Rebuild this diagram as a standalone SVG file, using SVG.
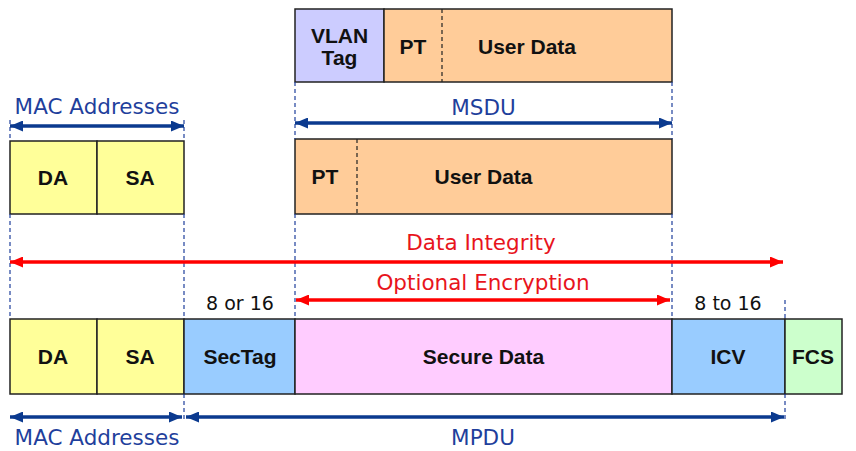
<svg xmlns="http://www.w3.org/2000/svg" width="856" height="451" viewBox="0 0 856 451">
<defs>
<marker id="ab" viewBox="0 0 13 11" refX="13" refY="5.5" markerWidth="13" markerHeight="11" markerUnits="userSpaceOnUse" orient="auto-start-reverse"><path d="M0,0 L13,5.5 L0,11 z" fill="#0B3A8F"/></marker>
<marker id="ar" viewBox="0 0 13 11" refX="13" refY="5.5" markerWidth="13" markerHeight="11" markerUnits="userSpaceOnUse" orient="auto-start-reverse"><path d="M0,0 L13,5.5 L0,11 z" fill="#FF0000"/></marker>
<style>
.box{stroke:#222;stroke-width:1.5}
.y{fill:#FFFF99}.p{fill:#CCCCFF}.o{fill:#FFCC99}.b{fill:#99CCFF}.k{fill:#FFCCFF}.g{fill:#CCFFCC}
.lbl{font-family:"Liberation Sans",Arial,sans-serif;font-weight:bold;font-size:21px;fill:#111;text-anchor:middle}
.bt{font-family:"DejaVu Sans",Verdana,sans-serif;font-size:21.5px;fill:#1F3F9C;text-anchor:middle}
.rt{font-family:"DejaVu Sans",Verdana,sans-serif;font-size:21.5px;fill:#E8141C;text-anchor:middle}
.kt{font-family:"DejaVu Sans",Verdana,sans-serif;font-size:19px;fill:#111;text-anchor:middle}
.dash{stroke:#1F3F9C;stroke-width:1.2;stroke-dasharray:4,3;fill:none}
.div{stroke:#222;stroke-width:1.2;stroke-dasharray:4,3}
.ba{stroke:#0B3A8F;stroke-width:3.5;fill:none;marker-start:url(#ab);marker-end:url(#ab)}
.ra{stroke:#FF0000;stroke-width:3.5;fill:none;marker-start:url(#ar);marker-end:url(#ar)}
</style>
</defs>

<g id="msdu-frame">
<rect class="box p" x="295" y="9" width="89" height="73"/>
<rect class="box o" x="384" y="9" width="288" height="73"/>
<line class="div" x1="442" y1="9" x2="442" y2="82"/>
<text class="lbl" x="339.5" y="43">VLAN</text>
<text class="lbl" x="339.5" y="65">Tag</text>
<text class="lbl" x="413" y="54">PT</text>
<text class="lbl" x="527" y="54">User Data</text>
</g>

<g id="mac-top">
<rect class="box y" x="10" y="141" width="87" height="73"/>
<rect class="box y" x="97" y="141" width="87" height="73"/>
<text class="lbl" x="53" y="185">DA</text>
<text class="lbl" x="140" y="185">SA</text>
</g>

<g id="user-data">
<rect class="box o" x="295" y="139" width="377" height="75"/>
<line class="div" x1="357" y1="139" x2="357" y2="214"/>
<text class="lbl" x="325" y="184">PT</text>
<text class="lbl" x="483.5" y="184">User Data</text>
</g>

<g id="mpdu-frame">
<rect class="box y" x="10" y="319" width="87" height="75"/>
<rect class="box y" x="97" y="319" width="87" height="75"/>
<rect class="box b" x="184" y="319" width="111" height="75"/>
<rect class="box k" x="295" y="319" width="377" height="75"/>
<rect class="box b" x="672" y="319" width="113" height="75"/>
<rect class="box g" x="785" y="319" width="57" height="75"/>
<text class="lbl" x="53" y="364">DA</text>
<text class="lbl" x="140" y="364">SA</text>
<text class="lbl" x="240" y="364">SecTag</text>
<text class="lbl" x="483.5" y="364">Secure Data</text>
<text class="lbl" x="728" y="364">ICV</text>
<text class="lbl" x="813" y="364">FCS</text>
</g>

<g id="connectors">
<path class="dash" d="M10,120 V141 M184,120 V141 M10,214 V319 M184,214 V319 M184,394 V420 M295,82 V139 M672,82 V139 M295,214 V319 M672,214 V319 M785,300 V319 M785,394 V420"/>
<line class="ba" x1="10" y1="126" x2="184" y2="126"/>
<line class="ba" x1="295" y1="123" x2="672" y2="123"/>
<line class="ra" x1="10" y1="262" x2="783" y2="262"/>
<line class="ra" x1="296" y1="300" x2="670" y2="300"/>
<line class="ba" x1="10" y1="417" x2="182" y2="417"/>
<line class="ba" x1="186" y1="417" x2="784" y2="417"/>
</g>

<g id="labels">
<text class="bt" x="97" y="114">MAC Addresses</text>
<text class="bt" x="483.5" y="115">MSDU</text>
<text class="rt" x="481" y="250">Data Integrity</text>
<text class="rt" x="483" y="290">Optional Encryption</text>
<text class="kt" x="240" y="310">8 or 16</text>
<text class="kt" x="728" y="310">8 to 16</text>
<text class="bt" x="97" y="445">MAC Addresses</text>
<text class="bt" x="483" y="445">MPDU</text>
</g>
</svg>
